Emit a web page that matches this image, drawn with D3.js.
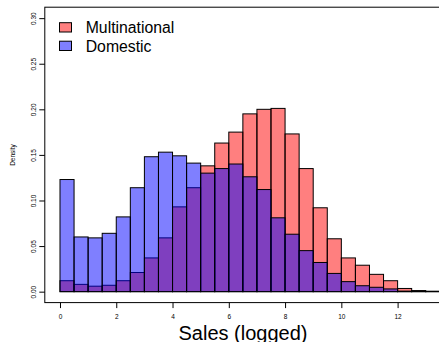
<!DOCTYPE html>
<html>
<head>
<meta charset="utf-8">
<script src="https://cdn.jsdelivr.net/npm/d3@7"></script>
<style>
  html, body { margin: 0; padding: 0; background: #fff; }
  svg { display: block; }
  text { font-family: "Liberation Sans", Arial, sans-serif; fill: #000; }
</style>
</head>
<body>
<svg id="chart" width="439" height="342"></svg>
<script>
// ---- data ----
const binWidth = 0.5;
const binStarts = [0,0.5,1,1.5,2,2.5,3,3.5,4,4.5,5,5.5,6,6.5,7,7.5,8,8.5,9,9.5,10,10.5,11,11.5,12,12.5,13];
const multinational = [0.012,0.008,0.006,0.007,0.012,0.021,0.037,0.059,0.093,0.114,0.138,0.163,0.175,0.195,0.200,0.201,0.173,0.135,0.092,0.058,0.037,0.029,0.019,0.012,0.0035,0.0012,0.0005];
const domestic = [0.123,0.060,0.059,0.064,0.082,0.114,0.148,0.153,0.149,0.141,0.130,0.135,0.140,0.126,0.112,0.081,0.063,0.045,0.032,0.020,0.011,0.0065,0.0048,0.003,0.0006,0.0002,0.0001];
const xTicks = [0,2,4,6,8,10,12];
const yTicks = [0.00,0.05,0.10,0.15,0.20,0.25,0.30];
const seriesNames = ["Multinational","Domestic"];
const seriesColors = ["rgba(255,0,0,0.5)","rgba(0,0,255,0.5)"];

// ---- layout ----
const svg = d3.select("#chart");
const pL = 44.8, pR = 455, pT = 7.2, pB = 302.6;
const x = d3.scaleLinear().domain([-0.54, 14.04]).range([pL, pR]);
const y = d3.scaleLinear().domain([-0.012, 0.312]).range([pB, pT]);

const font = "Liberation Sans, Arial, sans-serif";

// bars
function drawBars(values, color) {
  svg.append("g").selectAll("rect")
    .data(values.map((v, i) => ({x0: binStarts[i], v})))
    .join("rect")
    .attr("x", d => x(d.x0))
    .attr("width", d => x(d.x0 + binWidth) - x(d.x0))
    .attr("y", d => y(d.v))
    .attr("height", d => y(0) - y(d.v))
    .attr("fill", color)
    .attr("stroke", "#000")
    .attr("stroke-width", 1);
}
drawBars(multinational, seriesColors[0]);
drawBars(domestic, seriesColors[1]);

// box
svg.append("rect")
  .attr("x", pL).attr("y", pT)
  .attr("width", pR - pL).attr("height", pB - pT)
  .attr("fill", "none").attr("stroke", "#000").attr("stroke-width", 1);

// x axis
const xAxis = d3.axisBottom(x).tickValues(xTicks).tickSize(5.5).tickFormat(d3.format("d"));
const gx = svg.append("g").attr("transform", `translate(0,${pB})`).call(xAxis);
gx.select(".domain").remove();
gx.selectAll("text").attr("font-size", 6.5).attr("font-family", font).attr("dy", "0.35em").attr("y", 14.5);

// y axis
const yAxis = d3.axisLeft(y).tickValues(yTicks).tickSize(5.5).tickFormat(d3.format(".2f"));
const gy = svg.append("g").attr("transform", `translate(${pL},0)`).call(yAxis);
gy.select(".domain").remove();
gy.selectAll(".tick text")
  .attr("font-size", 6.5).attr("font-family", font)
  .attr("x", null).attr("dy", null)
  .attr("text-anchor", "middle")
  .attr("transform", "translate(-9.3,0) rotate(-90)");
svg.selectAll(".tick line").attr("stroke", "#000");

// axis titles
svg.append("text")
  .attr("transform", "translate(14.5,155) rotate(-90)")
  .attr("text-anchor", "middle").attr("font-size", 6.5).text("Density");
svg.append("text")
  .attr("x", 243).attr("y", 339.5)
  .attr("text-anchor", "middle").attr("font-size", 20).text("Sales (logged)");

// legend
const leg = svg.append("g");
seriesNames.forEach((name, i) => {
  const yy = 22.7 + i * 18.5;
  leg.append("rect").attr("x", 59.5).attr("y", yy).attr("width", 12).attr("height", 9.3)
    .attr("fill", seriesColors[i]).attr("stroke", "#000").attr("stroke-width", 1);
  leg.append("text").attr("x", 85.7).attr("y", yy + 10.7).attr("font-size", 15.8).text(name);
});
</script>
</body>
</html>
